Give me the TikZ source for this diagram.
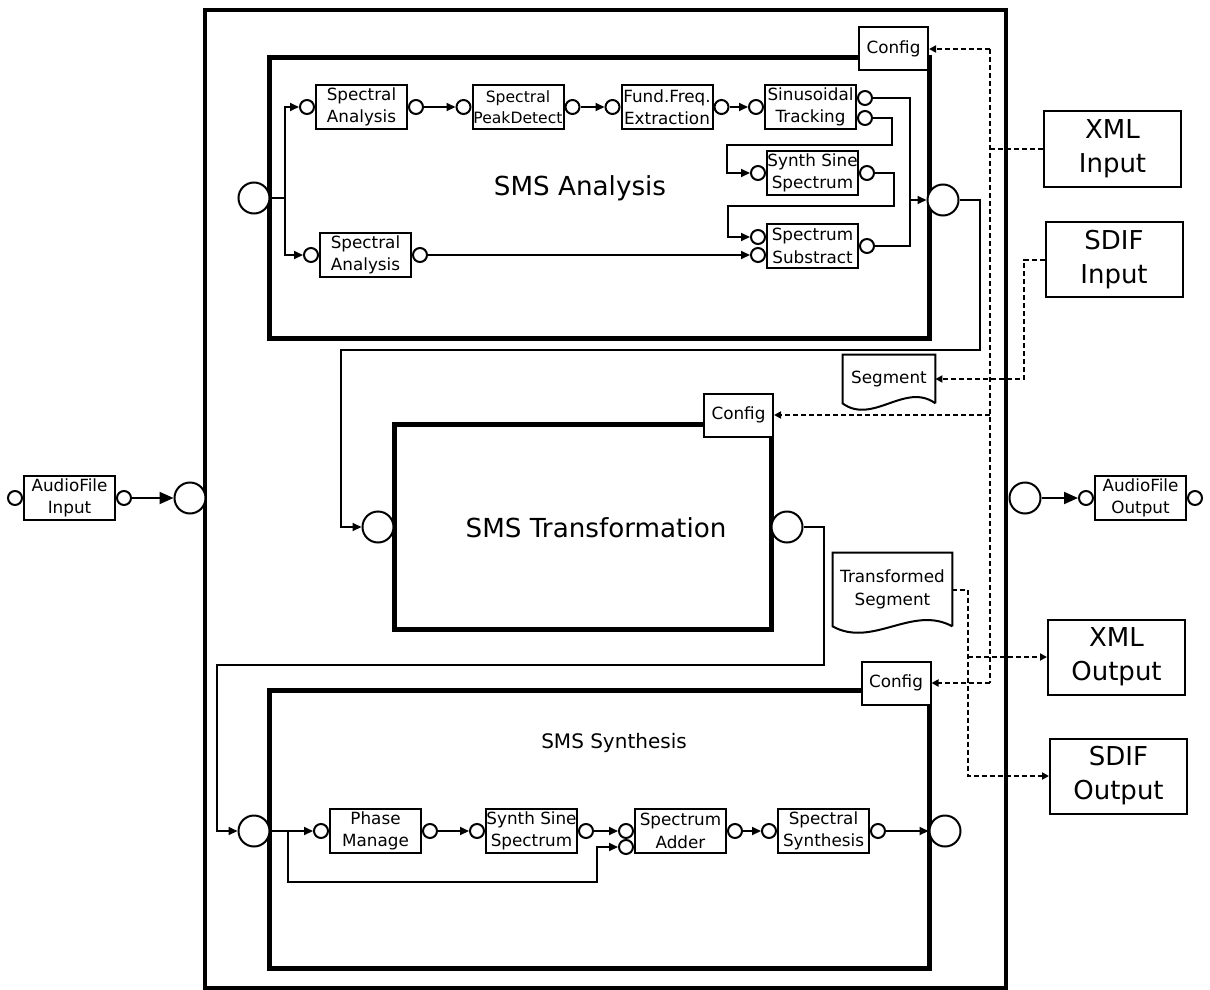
\documentclass[tikz,border=0pt]{standalone}
\usepackage{fontspec}
\setmainfont{DejaVu Sans}
\usetikzlibrary{arrows.meta,positioning}
\newcommand{\lbl}{\fontsize{8.4}{11.2}\selectfont}
% document outline with a wavy bottom edge
\newcommand{\docwave}[2]{%
  \draw[line width=1pt] (#1.south east) -- (#1.north east) -- (#1.north west) -- (#1.south west)
    .. controls +(#2,-11pt) and +(-#2,11pt) .. (#1.south east);}

\begin{document}
\begin{tikzpicture}[x=0.5pt,y=-0.5pt,
  >={Triangle[length=4.5pt,width=4pt]}, font=\lbl,
  wire/.style={line width=1pt},
  bigarr/.style={line width=1pt,-{Triangle[length=7pt,width=6pt]}},
  dsh/.style={line width=1pt,dash pattern=on 2.5pt off 1.5pt,>={Triangle[length=3.5pt,width=3.5pt]}},
  blk/.style={draw,line width=1pt,fill=white,minimum width=45.5pt,minimum height=22pt,inner sep=0pt,align=center},
  port/.style={circle,draw,line width=1pt,fill=white,minimum size=7pt,inner sep=0pt},
  bigport/.style={circle,draw,line width=1pt,fill=white,minimum size=15.5pt,inner sep=0pt},
  frame/.style={draw,line width=2.5pt,inner sep=0pt},
  cfg/.style={draw,line width=1pt,fill=white,minimum width=34.5pt,minimum height=21.5pt,inner sep=0pt},
  io/.style={draw,line width=1pt,minimum width=68.5pt,minimum height=37.5pt,inner sep=0pt,align=center,
    font=\fontsize{13}{17}\selectfont},
  title/.style={font=\fontsize{13.1}{16}\selectfont},
]
\useasboundingbox (0,0) rectangle (1210,990);

% --- system frame and the three stages ---
\node[draw,line width=2pt,minimum width=400.5pt,minimum height=489pt] (sys) at (605.5,499) {};
\node[frame,minimum width=330pt,minimum height=140pt] (ana) at (599,198) {};
\node[frame,minimum width=188.5pt,minimum height=102.5pt] (trf) at (582.5,526.5) {};
\node[frame,minimum width=330pt,minimum height=139pt] (syn) at (599,829) {};
\node[title] at (580,188) {SMS Analysis};
\node[title] at (596,528) {SMS Transformation};
\node[font=\fontsize{10}{12}\selectfont] at (614,743) {SMS Synthesis};
\node[cfg] (cfa) at (893.5,49) {Config};
\node[cfg] (cft) at (738.5,415) {Config};
\node[cfg] (cfs) at (896,683) {Config};

% --- analysis ---
\node[bigport] (ain) at (254,198) {};
\node[bigport] (aout) at (943,200) {};
\node[blk] (sa1) at (361.5,107) {Spectral\\Analysis};
\node[blk,font=\fontsize{7.8}{10.5}\selectfont] (pd) at (518,107) {Spectral\\PeakDetect};
\node[blk] (ff) at (667,107) {Fund.Freq.\\Extraction};
\node[blk] (st) at (810.5,107) {Sinusoidal\\Tracking};
\node[blk] (sss) at (812.5,173) {Synth Sine\\Spectrum};
\node[blk] (ss) at (812.5,246) {Spectrum\\Substract};
\node[blk] (sa2) at (365.5,255) {Spectral\\Analysis};
\node[port,left=0pt of sa1] (sa1i) {};
\node[port,right=0pt of sa1] (sa1o) {};
\node[port,left=0pt of pd] (pdi) {};
\node[port,right=0pt of pd] (pdo) {};
\node[port,left=0pt of ff] (ffi) {};
\node[port,right=0pt of ff] (ffo) {};
\node[port,left=0pt of st] (sti) {};
\node[port,anchor=west] (st1) at ([yshift=4.5pt]st.east) {};
\node[port,anchor=west] (st2) at ([yshift=-5.5pt]st.east) {};
\node[port,left=0pt of sss] (sssi) {};
\node[port,right=0pt of sss] (ssso) {};
\node[port,anchor=east] (ss1) at ([yshift=4.5pt]ss.west) {};
\node[port,anchor=east] (ss2) at ([yshift=-4.5pt]ss.west) {};
\node[port,right=0pt of ss] (sso) {};
\node[port,left=0pt of sa2] (sa2i) {};
\node[port,right=0pt of sa2] (sa2o) {};

\coordinate (asplit) at (285,198);
\coordinate (amerge) at (910,200);
\draw[wire] (ain) -- (asplit);
\draw[wire,->] (asplit) |- (sa1i);
\draw[wire,->] (asplit) |- (sa2i);
\draw[wire,->] (sa1o) -- (pdi);
\draw[wire,->] (pdo) -- (ffi);
\draw[wire,->] (ffo) -- (sti);
\draw[wire] (st1) -| (amerge);
\draw[wire] (sso) -| (amerge);
\draw[wire,->] (amerge) -- (aout);
\draw[wire,->] (st2) -| (892,145) -| ([xshift=-11.5pt]sssi.west) -- (sssi);
\draw[wire,->] (ssso) -| (894,206) -| ([xshift=-11pt]ss1.west) -- (ss1);
\draw[wire,->] (sa2o) -- (ss2);

% --- transformation ---
\node[bigport] (tin) at (378,527) {};
\node[bigport] (tout) at (787,527) {};
\draw[wire,->] (aout) -| (980,350) -| ([xshift=-10.5pt]tin.west) -- (tin);

% --- synthesis ---
\node[bigport] (sin) at (254,831) {};
\node[bigport] (sout) at (945,831) {};
\node[blk] (pm) at (375.5,831) {Phase\\Manage};
\node[blk] (sys2) at (531.5,831) {Synth Sine\\Spectrum};
\node[blk] (add) at (680.5,831) {Spectrum\\Adder};
\node[blk] (sps) at (823.5,831) {Spectral\\Synthesis};
\node[port,left=0pt of pm] (pmi) {};
\node[port,right=0pt of pm] (pmo) {};
\node[port,left=0pt of sys2] (sys2i) {};
\node[port,right=0pt of sys2] (sys2o) {};
\node[port,anchor=east] (add1) at (add.west) {};
\node[port,anchor=east] (add2) at ([yshift=-8pt]add.west) {};
\node[port,right=0pt of add] (addo) {};
\node[port,left=0pt of sps] (spsi) {};
\node[port,right=0pt of sps] (spso) {};

\draw[wire,->] (tout) -| (824,665) -| ([xshift=-10.5pt]sin.west) -- (sin);
\coordinate (ssplit) at (288,831);
\draw[wire] (sin) -- (ssplit);
\draw[wire,->] (ssplit) -- (pmi);
\draw[wire,->] (ssplit) |- (597,882) |- (add2);
\draw[wire,->] (pmo) -- (sys2i);
\draw[wire,->] (sys2o) -- (add1);
\draw[wire,->] (addo) -- (spsi);
\draw[wire,->] (spso) -- (sout);

% --- audio files ---
\node[bigport] (lin) at (190,498) {};
\node[bigport] (rin) at (1025,498) {};
\node[blk] (afi) at (69.5,498) {AudioFile\\Input};
\node[port,left=0pt of afi] (afil) {};
\node[port,right=0pt of afi] (afir) {};
\node[blk] (afo) at (1140.5,498) {AudioFile\\Output};
\node[port,left=0pt of afo] (afol) {};
\node[port,right=0pt of afo] (afor) {};
\draw[bigarr] (afir) -- (lin);
\draw[bigarr] (rin) -- (afol);

% --- xml / sdif files ---
\node[io] (xmlin) at (1112.5,149) {XML\\Input};
\node[io] (sdifin) at (1114,259.5) {SDIF\\Input};
\node[io] (xmlout) at (1116.5,657) {XML\\Output};
\node[io] (sdifout) at (1118.5,776) {SDIF\\Output};
\node[minimum width=46pt,minimum height=24pt,inner sep=0pt] (seg) at (889,379) {Segment};
\docwave{seg}{15pt}
\node[minimum width=59.5pt,minimum height=36.5pt,inner sep=0pt,align=center] (tseg) at (892.5,589.5)
  {Transformed\\Segment};
\docwave{tseg}{20pt}

\coordinate (busT) at (990,49);
\coordinate (busB) at (990,683);
\coordinate (tsb) at (968,657);
\draw[dsh] (xmlin) -- (xmlin -| busT);
\draw[dsh] (busT) -- (busB);
\draw[dsh,->] (busT) -- (cfa);
\draw[dsh,->] (cft -| busT) -- (cft);
\draw[dsh,->] (busB) -- (cfs);
\draw[dsh,->] (sdifin) -| ([xshift=44.5pt]seg.east) -- (seg);
\draw[dsh,->] (tseg) -| (968,776) -- (sdifout);
\draw[dsh,->] (tsb) -- (xmlout);
\end{tikzpicture}
\end{document}
